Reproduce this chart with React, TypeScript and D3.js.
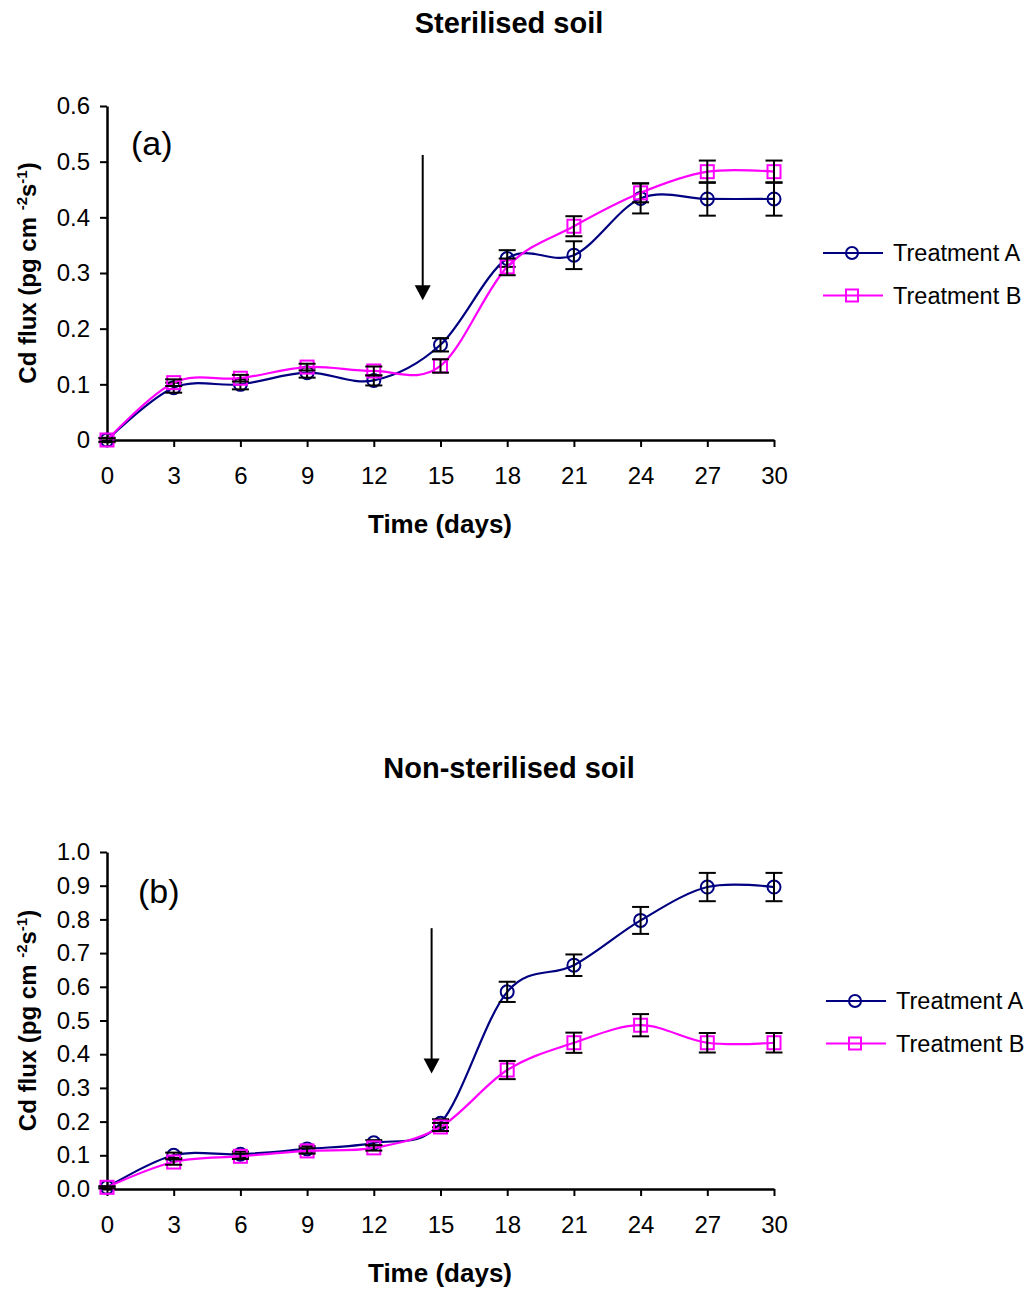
import React, { useEffect, useRef } from 'react'
import * as d3 from 'd3'

// sampling days
const days = [0, 3, 6, 9, 12, 15, 18, 21, 24, 27, 30]
const xTicks = [0, 3, 6, 9, 12, 15, 18, 21, 24, 27, 30]
const seriesNames = ['Treatment A', 'Treatment B']

// (a) sterilised soil
const sterA = [0, 0.094, 0.1, 0.121, 0.107, 0.171, 0.326, 0.332, 0.434, 0.433, 0.433]
const sterAErr = [0.004, 0.009, 0.009, 0.009, 0.009, 0.012, 0.015, 0.025, 0.027, 0.03, 0.03]
const sterB = [0, 0.103, 0.111, 0.131, 0.124, 0.133, 0.311, 0.384, 0.444, 0.482, 0.482]
const sterBErr = [0.003, 0.006, 0.006, 0.006, 0.008, 0.012, 0.015, 0.018, 0.017, 0.02, 0.02]
const sterYTicks = [0, 0.1, 0.2, 0.3, 0.4, 0.5, 0.6]
const sterArrow = { day: 14.2, from: 0.512, to: 0.251 }

// (b) non-sterilised soil
const nonA = [0.005, 0.1, 0.103, 0.119, 0.137, 0.195, 0.585, 0.664, 0.797, 0.896, 0.896]
const nonAErr = [0.003, 0.008, 0.008, 0.008, 0.008, 0.012, 0.03, 0.032, 0.04, 0.042, 0.042]
const nonB = [0.005, 0.08, 0.097, 0.113, 0.122, 0.184, 0.353, 0.434, 0.486, 0.434, 0.434]
const nonBErr = [0.003, 0.008, 0.008, 0.008, 0.008, 0.012, 0.027, 0.03, 0.033, 0.029, 0.029]
const nonYTicks = [0, 0.1, 0.2, 0.3, 0.4, 0.5, 0.6, 0.7, 0.8, 0.9, 1.0]
const nonArrow = { day: 14.6, from: 0.774, to: 0.343 }

const NAVY = '#000080'
const MAGENTA = '#ff00ff'
const FONT = 'Arial, "Liberation Sans", sans-serif'

function Panel(props) {
  const { top, bottom, yMax, yTicks, yFormat, a, aErr, b, bErr, arrow, title, titleY, label, labelX, labelY, legendX, legendY } = props
  const xAxisRef = useRef(null)
  const yAxisRef = useRef(null)

  const x = d3.scaleLinear().domain([0, 30]).range([107, 774])
  const y = d3.scaleLinear().domain([0, yMax]).range([bottom, top])

  useEffect(() => {
    const xa = d3.axisBottom(x).tickValues(xTicks).tickSize(7).tickSizeOuter(0).tickPadding(20)
    const ya = d3.axisLeft(y).tickValues(yTicks).tickSize(7).tickSizeOuter(0).tickPadding(10).tickFormat(yFormat)
    const gx = d3.select(xAxisRef.current).call(xa)
    const gy = d3.select(yAxisRef.current).call(ya)
    for (const g of [gx, gy]) {
      g.selectAll('path.domain').attr('stroke', '#000').attr('stroke-width', 2.5)
      g.selectAll('.tick line').attr('stroke', '#000').attr('stroke-width', 2)
      g.selectAll('.tick text').attr('fill', '#000').style('font-size', '24px').style('font-family', FONT)
    }
  })

  const line = d3.line().x((d, i) => x(days[i])).y(d => y(d)).curve(d3.curveCardinal.tension(0))

  const drawSeries = (vals, errs, color, kind) => (
    <g>
      <path d={line(vals)} fill="none" stroke={color} strokeWidth={2.2} />
      {vals.map((v, i) => kind === 'circle'
        ? <circle key={'m' + i} cx={x(days[i])} cy={y(v)} r={6.5} fill="none" stroke={color} strokeWidth={2} />
        : <rect key={'m' + i} x={x(days[i]) - 6.5} y={y(v) - 6.5} width={13} height={13} fill="none" stroke={color} strokeWidth={2} />)}
      {vals.map((v, i) => {
        const cx = x(days[i])
        const y1 = y(v + errs[i])
        const y2 = y(v - errs[i])
        return (
          <g key={'e' + i} stroke="#000" strokeWidth={2}>
            <line x1={cx} x2={cx} y1={y1} y2={y2} />
            <line x1={cx - 8.5} x2={cx + 8.5} y1={y1} y2={y1} />
            <line x1={cx - 8.5} x2={cx + 8.5} y1={y2} y2={y2} />
          </g>
        )
      })}
    </g>
  )

  const ax = x(arrow.day)
  const ay1 = y(arrow.from)
  const ay2 = y(arrow.to)
  const midY = (top + bottom) / 2

  return (
    <g>
      <text x={509} y={titleY} textAnchor="middle" fontSize={29} fontWeight="bold" fontFamily={FONT}>{title}</text>
      <text x={labelX} y={labelY} fontSize={34} fontFamily={FONT}>{label}</text>
      <g ref={xAxisRef} transform={`translate(0,${bottom})`} />
      <g ref={yAxisRef} transform="translate(107,0)" />
      <text x={440} y={bottom + 93} textAnchor="middle" fontSize={26} fontWeight="bold" fontFamily={FONT}>Time (days)</text>
      <text transform={`translate(36,${midY}) rotate(-90)`} textAnchor="middle" fontSize={24} fontWeight="bold" fontFamily={FONT}>
        Cd flux (pg cm <tspan fontSize={15} dy={-9}>-2</tspan><tspan dy={9}>s</tspan><tspan fontSize={15} dy={-9}>-1</tspan><tspan dy={9}>)</tspan>
      </text>
      <line x1={ax} x2={ax} y1={ay1} y2={ay2 - 14} stroke="#000" strokeWidth={2} />
      <path d={`M${ax - 8},${ay2 - 15}L${ax + 8},${ay2 - 15}L${ax},${ay2}Z`} fill="#000" />
      {drawSeries(a, aErr, NAVY, 'circle')}
      {drawSeries(b, bErr, MAGENTA, 'square')}
      {seriesNames.map((name, i) => {
        const ly = legendY + i * 42.5
        const color = i === 0 ? NAVY : MAGENTA
        return (
          <g key={name}>
            <line x1={legendX} x2={legendX + 60} y1={ly} y2={ly} stroke={color} strokeWidth={2.2} />
            {i === 0
              ? <circle cx={legendX + 29} cy={ly} r={6} fill="none" stroke={color} strokeWidth={2} />
              : <rect x={legendX + 23} y={ly - 6} width={12} height={12} fill="none" stroke={color} strokeWidth={2} />}
            <text x={legendX + 70} y={ly + 8} fontSize={23.5} fontFamily={FONT}>{name}</text>
          </g>
        )
      })}
    </g>
  )
}

export default function App() {
  return (
    <svg width={1029} height={1289} style={{ position: 'absolute', left: 0, top: 0, background: '#fff' }}>
      <Panel top={106} bottom={440} yMax={0.6} yTicks={sterYTicks} yFormat={d => (d === 0 ? '0' : d3.format('.1f')(d))}
        a={sterA} aErr={sterAErr} b={sterB} bErr={sterBErr} arrow={sterArrow}
        title="Sterilised soil" titleY={33} label="(a)" labelX={131} labelY={155}
        legendX={823} legendY={253} />
      <Panel top={852} bottom={1189} yMax={1.0} yTicks={nonYTicks} yFormat={d3.format('.1f')}
        a={nonA} aErr={nonAErr} b={nonB} bErr={nonBErr} arrow={nonArrow}
        title="Non-sterilised soil" titleY={778} label="(b)" labelX={138} labelY={903}
        legendX={826} legendY={1001} />
    </svg>
  )
}
